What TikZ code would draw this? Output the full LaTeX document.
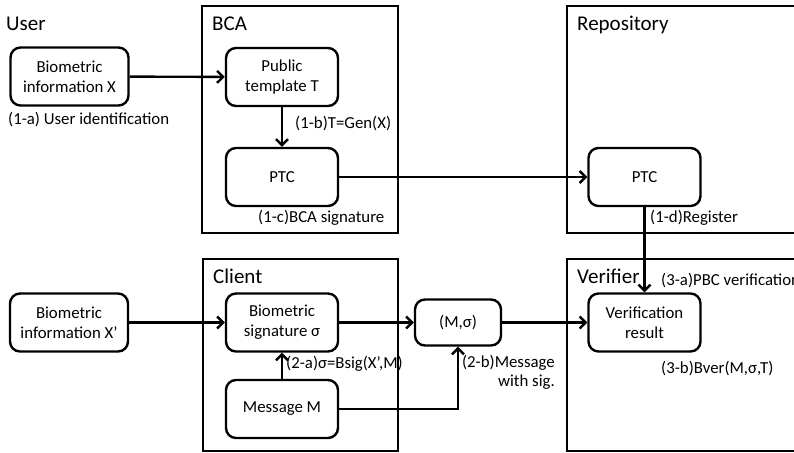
\documentclass[tikz,border=0pt]{standalone}
\usepackage{fontspec}
\setmainfont{Carlito}
\usetikzlibrary{arrows.meta}
\begin{document}
\begin{tikzpicture}[x=1pt,y=-1pt,
  container/.style={draw, line width=2pt},
  title/.style={anchor=base west, inner sep=0pt, font=\fontsize{21}{25}\selectfont},
  block/.style={draw, line width=2.4pt, rounded corners=10pt, align=center,
    minimum width=112pt, minimum height=58pt, inner sep=2pt,
    font=\fontsize{16.8}{20}\selectfont},
  note/.style={anchor=base west, inner sep=0pt, font=\fontsize{16.8}{20}\selectfont},
  arr/.style={line width=2.4pt, -{Straight Barb[length=6pt,width=12pt]}}]
\useasboundingbox (0,0) rectangle (794,452);
\clip (0,0) rectangle (794,452);

% party boxes
\draw[container] (202,6) rectangle (398,233);
\draw[container] (567,6) rectangle (800,233);
\draw[container] (203,259) rectangle (398,451);
\draw[container] (567,259) rectangle (800,451);

% party titles
\node[title] (tuser) at (6,31) {User};
\node[title] (tbca) at (212,31) {BCA};
\node[title] (trep) at (577,31) {Repository};
\node[title] (tcli) at (213,283) {Client};
\node[title] (tver) at (577,283) {Verifier};

% blocks
\node[block, minimum width=118pt] (bx) at (69.5,76.5) {Biometric\\information X};
\node[block] (tpl) at (282,77) {Public\\template T};
\node[block] (ptca) at (282,177) {PTC};
\node[block] (ptcb) at (644.5,177) {PTC};
\node[block, minimum width=118pt] (bxp) at (69,322.5) {Biometric\\information X’};
\node[block] (bsig) at (282,322.5) {Biometric\\signature σ};
\node[block] (msg) at (282,409) {Message M};
\node[block, minimum width=86pt, minimum height=46pt] (pair) at (458,322.5) {(M,σ)};
\node[block] (vres) at (644.5,322.5) {Verification\\result};

% connectors
\draw[arr] (bx) -- (tpl);
\draw[arr] (tpl) -- (ptca);
\draw[arr] (ptca) -- (ptcb);
\draw[arr] (ptcb) -- (vres);
\draw[arr] (bxp) -- (bsig);
\draw[arr] (msg) -- (bsig);
\draw[arr] (bsig) -- (pair);
\draw[arr] (msg.east) -| (pair.south);
\draw[arr] (pair) -- (vres);

% step labels
\node[note] (l1a) at (8,124) {(1-a) User identification};
\node[note] (l1b) at (295,128) {(1-b)T=Gen(X)};
\node[note] (l1c) at (258,222) {(1-c)BCA signature};
\node[note] (l1d) at (650,222) {(1-d)Register};
\node[note] (l3a) at (661,285) {(3-a)PBC verification};
\node[note] (l3b) at (661,373) {(3-b)Bver(M,σ,T)};
\node[note] (l2a) at (286,368) {(2-a)σ=Bsig(X’,M)};
\node[anchor=north east, inner sep=0pt, align=right, font=\fontsize{16.8}{19}\selectfont] (l2b) at (555,355) {(2-b)Message\\with sig.};
\end{tikzpicture}
\end{document}
